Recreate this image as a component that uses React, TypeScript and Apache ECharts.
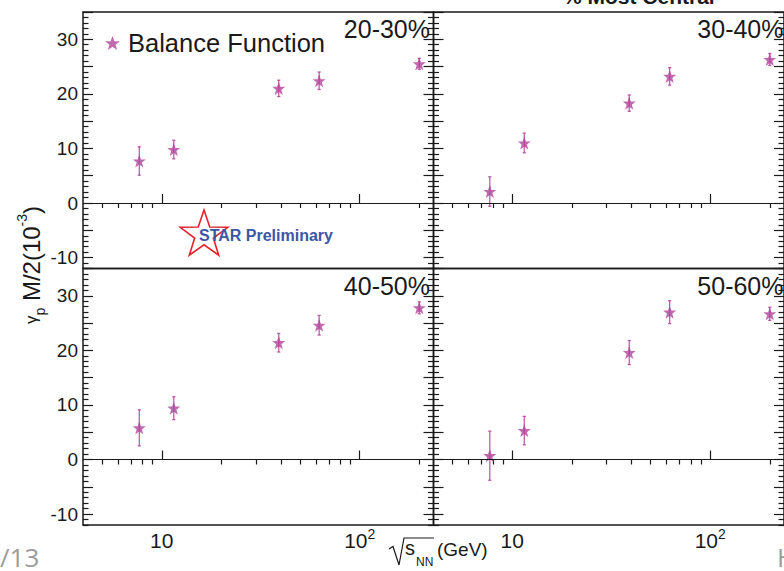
import React, { useEffect, useRef } from 'react';
import * as echarts from 'echarts';

// ---- data ----
const energies = [7.7, 11.5, 39, 62.4, 200];
const panelLabels = ['20-30%', '30-40%', '40-50%', '50-60%'];
const gamma2030 = [7.7, 9.8, 21.0, 22.4, 25.5];
const err2030 = [2.6, 1.7, 1.5, 1.6, 1.0];
const gamma3040 = [2.1, 11.0, 18.3, 23.2, 26.3];
const err3040 = [2.7, 1.8, 1.5, 1.6, 1.1];
const gamma4050 = [5.8, 9.4, 21.4, 24.6, 27.8];
const err4050 = [3.3, 2.1, 1.7, 1.8, 1.1];
const gamma5060 = [0.7, 5.3, 19.6, 27.0, 26.7];
const err5060 = [4.5, 2.6, 2.2, 2.1, 1.2];

const yLabelTicks = [-10, 0, 10, 20, 30];
const yMajorTicks = [-10, -5, 0, 5, 10, 15, 20, 25, 30, 35];
const yMinorTicks = [-12, -11, -9, -8, -7, -6, -4, -3, -2, -1, 1, 2, 3, 4, 6, 7, 8, 9, 11, 12, 13, 14, 16, 17, 18, 19, 21, 22, 23, 24, 26, 27, 28, 29, 31, 32, 33, 34];
const xLabelTicks = [10, 100];
const xMinorTicks = [5, 6, 7, 8, 9, 20, 30, 40, 50, 60, 70, 80, 90, 200];

const panelValues = [gamma2030, gamma3040, gamma4050, gamma5060];
const panelErrors = [err2030, err3040, err4050, err5060];

const FONT = "'Liberation Sans', Arial, Helvetica, sans-serif";
const INK = '#1a1a1a';
const MAGENTA = '#b1439a';
const STAR_PATH = 'path://M12,0.5 L14.9,8.6 L23.4,8.6 L16.6,13.8 L19.1,22 L12,17.1 L4.9,22 L7.4,13.8 L0.6,8.6 L9.1,8.6 Z';

const grids = [
  { left: 83, top: 12, width: 350.5, height: 256.5 },
  { left: 433.5, top: 12, width: 351, height: 256.5 },
  { left: 83, top: 268.5, width: 350.5, height: 256.5 },
  { left: 433.5, top: 268.5, width: 351, height: 256.5 },
];

function starPoints(cx: number, cy: number, R: number, r: number) {
  const pts: number[][] = [];
  for (let k = 0; k < 10; k++) {
    const ang = -Math.PI / 2 + (k * Math.PI) / 5;
    const rad = k % 2 === 0 ? R : r;
    pts.push([cx + rad * Math.cos(ang), cy + rad * Math.sin(ang)]);
  }
  return pts;
}

function buildOption() {
  const xAxes: any[] = [];
  const yAxes: any[] = [];
  const series: any[] = [];

  grids.forEach((g, i) => {
    const bottomRow = i >= 2;
    const leftCol = i % 2 === 0;
    xAxes.push({
      type: 'log', logBase: 10, gridIndex: i, min: 4, max: 236,
      axisLine: { show: false }, splitLine: { show: false },
      axisTick: { show: true, inside: true, length: 9, customValues: xLabelTicks, lineStyle: { color: INK, width: 1.2 } },
      axisLabel: {
        show: bottomRow, customValues: xLabelTicks, margin: 2,
        formatter: (v: number) => (Math.round(Math.log10(v)) === 1 ? '{m|10}' : '{m|10}{sup|2}'),
        rich: {
          m: { fontSize: 21, fontFamily: FONT, color: INK, lineHeight: 26, verticalAlign: 'middle' },
          sup: { fontSize: 14, fontFamily: FONT, color: INK, lineHeight: 12, verticalAlign: 'top' },
        },
      },
    });
    xAxes.push({
      type: 'log', logBase: 10, gridIndex: i, min: 4, max: 236,
      axisLine: { show: false }, splitLine: { show: false },
      axisTick: { show: true, inside: true, length: 5, customValues: xMinorTicks, lineStyle: { color: INK, width: 1.2 } },
      axisLabel: { show: false },
    });
    (['left', 'right'] as const).forEach((side) => {
      yAxes.push({
        type: 'value', gridIndex: i, min: -12, max: 35, position: side,
        axisLine: { show: false }, splitLine: { show: false },
        axisTick: { show: true, inside: true, length: 10, customValues: yMajorTicks, lineStyle: { color: INK, width: 1.2 } },
        axisLabel: {
          show: side === 'left' && leftCol, customValues: yLabelTicks, margin: 5,
          fontSize: 19, fontFamily: FONT, color: INK,
        },
      });
      yAxes.push({
        type: 'value', gridIndex: i, min: -12, max: 35, position: side,
        axisLine: { show: false }, splitLine: { show: false },
        axisTick: { show: true, inside: true, length: 5.5, customValues: yMinorTicks, lineStyle: { color: INK, width: 1.2 } },
        axisLabel: { show: false },
      });
    });

    const vals = panelValues[i];
    const errs = panelErrors[i];
    series.push({
      type: 'custom', name: 'errors' + i, xAxisIndex: i * 2, yAxisIndex: i * 4,
      silent: true, z: 3,
      encode: { x: 0, y: 1 },
      data: energies.map((e, k) => [e, vals[k], vals[k] - errs[k], vals[k] + errs[k]]),
      renderItem: (params: any, api: any) => {
        const x = api.value(0);
        const top = api.coord([x, api.value(3)]);
        const bot = api.coord([x, api.value(2)]);
        const cw = 1.6;
        const st = { stroke: MAGENTA, lineWidth: 1.3, opacity: 0.85 };
        return {
          type: 'group',
          children: [
            { type: 'line', shape: { x1: top[0], y1: top[1], x2: bot[0], y2: bot[1] }, style: st },
            { type: 'line', shape: { x1: top[0] - cw, y1: top[1], x2: top[0] + cw, y2: top[1] }, style: st },
            { type: 'line', shape: { x1: bot[0] - cw, y1: bot[1], x2: bot[0] + cw, y2: bot[1] }, style: st },
          ],
        };
      },
    });
    series.push({
      type: 'scatter', name: 'Balance Function', xAxisIndex: i * 2, yAxisIndex: i * 4,
      symbol: STAR_PATH, symbolSize: 13, z: 4,
      itemStyle: { color: MAGENTA },
      emphasis: { disabled: true },
      data: energies.map((e, k) => [e, vals[k]]),
      markLine: {
        silent: true, symbol: 'none', label: { show: false },
        lineStyle: { color: INK, width: 1.2, type: 'solid' },
        emphasis: { disabled: true },
        data: [{ yAxis: 0 }],
      },
    });
  });

  const labelPos = [
    [430, 28.5], [783.5, 28.5], [430, 285.5], [783.5, 285.5],
  ];
  const graphic: any[] = panelLabels.map((t, i) => ({
    type: 'text', x: labelPos[i][0], y: labelPos[i][1], silent: true,
    style: { text: t, fontSize: 25, fontFamily: FONT, fill: INK, align: 'right', verticalAlign: 'middle' },
  }));

  graphic.push({
    type: 'text', x: 563, y: -3.3, silent: true,
    style: { text: '% Most Central', fontSize: 21, fontWeight: 'bold', fontFamily: FONT, fill: INK, align: 'left', verticalAlign: 'middle' },
  });

  // y axis title
  graphic.push({
    type: 'text', x: 31, y: 265, rotation: Math.PI / 2, silent: true,
    style: {
      text: '{g|γ}{sub|p}{m| M/2(10}{sup|-3}{m|)}',
      align: 'center', verticalAlign: 'middle',
      rich: {
        m: { fontSize: 24, fontFamily: FONT, fill: INK, lineHeight: 32, verticalAlign: 'middle' },
        g: { fontSize: 17, fontFamily: FONT, fill: INK, lineHeight: 32, verticalAlign: 'middle' },
        sub: { fontSize: 14, fontFamily: FONT, fill: INK, lineHeight: 14, verticalAlign: 'bottom' },
        sup: { fontSize: 14, fontFamily: FONT, fill: INK, lineHeight: 14, verticalAlign: 'top' },
      },
    },
  });

  // x axis title
  graphic.push({
    type: 'polyline', silent: true,
    shape: { points: [[389, 549], [393, 546.5], [399, 565], [404, 538], [434, 538]] },
    style: { stroke: INK, lineWidth: 1.2, fill: 'none' },
  });
  graphic.push({
    type: 'text', x: 405, y: 548.4, silent: true,
    style: { text: 's', fontSize: 20, fontFamily: FONT, fill: INK, align: 'left', verticalAlign: 'middle' },
  });
  graphic.push({
    type: 'text', x: 416, y: 561.8, silent: true,
    style: { text: 'NN', fontSize: 12, fontFamily: FONT, fill: INK, align: 'left', verticalAlign: 'middle' },
  });
  graphic.push({
    type: 'text', x: 437, y: 549, silent: true,
    style: { text: '(GeV)', fontSize: 19, fontFamily: FONT, fill: INK, align: 'left', verticalAlign: 'middle' },
  });

  // STAR preliminary logo
  graphic.push({
    type: 'polygon', silent: true,
    shape: { points: starPoints(204, 235, 25, 9.8) },
    style: { stroke: '#e8222c', lineWidth: 1.6, fill: '#ffffff' },
  });
  graphic.push({
    type: 'text', x: 199, y: 235, silent: true,
    style: { text: 'STAR Preliminary', fontSize: 16, fontWeight: 'bold', fontFamily: FONT, fill: '#3d56a6', align: 'left', verticalAlign: 'middle' },
  });

  // slide artifacts
  graphic.push({
    type: 'text', x: 0, y: 557, silent: true,
    style: { text: '/13', fontSize: 26, fontFamily: "'Open Sans', sans-serif", fill: '#9c9c9c', align: 'left', verticalAlign: 'middle' },
  });
  graphic.push({
    type: 'text', x: 777, y: 557, silent: true,
    style: { text: 'H', fontSize: 26, fontFamily: "'Open Sans', sans-serif", fill: '#9c9c9c', align: 'left', verticalAlign: 'middle' },
  });

  return {
    animation: false,
    backgroundColor: '#ffffff',
    grid: grids.map((g) => ({ ...g, show: true, borderColor: INK, borderWidth: 1.5, backgroundColor: 'transparent' })),
    xAxis: xAxes,
    yAxis: yAxes,
    legend: {
      show: true, left: 100, top: 25, itemWidth: 15, itemHeight: 15, icon: STAR_PATH,
      selectedMode: false,
      data: ['Balance Function'],
      textStyle: { fontSize: 25.5, fontFamily: FONT, color: INK, padding: [0, 0, 0, 3] },
    },
    series,
    graphic,
  };
}

export default function App() {
  const ref = useRef<HTMLDivElement>(null);
  useEffect(() => {
    if (!ref.current) return;
    const chart = echarts.init(ref.current, null, { renderer: 'svg' });
    chart.setOption(buildOption() as any);
    return () => chart.dispose();
  }, []);
  return <div ref={ref} style={{ position: 'fixed', left: 0, top: 0, width: 784, height: 571 }} />;
}
